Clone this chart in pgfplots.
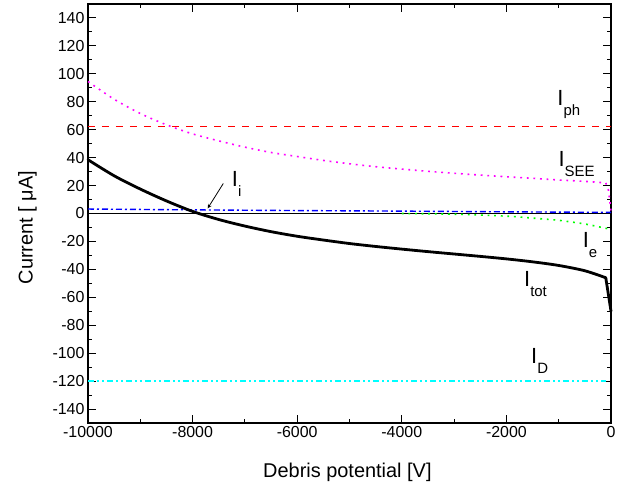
\documentclass[border=0pt]{standalone}
\usepackage{pgfplots}
\pgfplotsset{compat=1.18}
\usepackage{fontspec}
\setmainfont{Liberation Sans}
\definecolor{cRed}{RGB}{255,0,0}
\definecolor{cMag}{RGB}{255,0,255}
\definecolor{cBlue}{RGB}{0,0,255}
\definecolor{cGreen}{RGB}{0,255,0}
\definecolor{cCyan}{RGB}{0,255,255}
\newcommand{\lbl}[1]{{\fontsize{22}{22}\selectfont I}\raisebox{-10bp}{\fontsize{15}{15}\selectfont #1}}
\begin{document}
\begin{tikzpicture}
\begin{axis}[
    scale only axis,
    width=523bp, height=419bp,
    xmin=-10000, xmax=0,
    ymin=-150, ymax=150,
    xtick={-10000,-8000,-6000,-4000,-2000,0},
    minor x tick num=1,
    ytick={-140,-120,-100,-80,-60,-40,-20,0,20,40,60,80,100,120,140},
    minor y tick num=1,
    scaled x ticks=false,
    tick align=inside,
    major tick length=8bp, minor tick length=4bp,
    every tick/.style={black, line width=1bp},
    axis line style={line width=1.2bp},
    /pgf/number format/assume math mode=true,
    /pgf/number format/1000 sep={},
    tick label style={font=\fontsize{16}{19}\selectfont},
    label style={font=\fontsize{20}{24}\selectfont},
    xlabel={Debris potential [V]},
    ylabel={Current [ μA]},
    xlabel style={at={(axis description cs:0.496,-0.13)}, anchor=base},
    ylabel style={at={(axis description cs:-0.1057,0.4666)}, anchor=base},
    clip=false,
]
\coordinate (sw) at (rel axis cs:0,0);
\coordinate (ne) at (rel axis cs:1,1);

% zero line
\addplot[black, line width=1.2bp] coordinates {(-10000,0) (0,0)};

% I_ph
\addplot[cRed, line width=1.3bp, dash pattern=on 7bp off 7bp] coordinates {(-10000,62.3) (0,62.3)};

% I_SEE
\addplot[cMag, line width=1.6bp, dash pattern=on 1.8bp off 4.8bp, smooth] coordinates {
    (-10000,94.5) (-9500,81.8) (-9000,71.6) (-8500,63.5) (-8000,57.0)
    (-7500,52.0) (-7000,47.5) (-6500,43.7) (-6000,40.8) (-5500,38.0)
    (-5000,35.6) (-4500,33.5) (-4000,31.8) (-3500,30.2) (-3000,28.8)
    (-2500,27.5) (-2000,26.3) (-1500,25.2) (-1000,24.0) (-500,23.0)
    (-100,21.9)
};
\addplot[cMag, line width=1.6bp, dash pattern=on 1.8bp off 4.8bp] coordinates {
    (-100,21.9) (-50,17) (0,2)
};

% I_i
\addplot[cBlue, line width=1.4bp, dash pattern=on 6bp off 3bp on 2bp off 3bp] coordinates {
    (-10000,3.2) (-8000,2.6) (-6000,2.1) (-4000,1.7) (-2000,1.2) (0,0.8)
};

% I_e
\addplot[cGreen, line width=1.6bp, dash pattern=on 1.8bp off 4.8bp, smooth] coordinates {
    (-4000,0) (-3000,-0.5) (-2000,-1.9) (-1500,-3.3) (-1000,-4.9)
    (-500,-7.5) (-200,-9.8) (-50,-11) (0,-12)
};

% I_D
\addplot[cCyan, line width=1.4bp, dash pattern=on 6bp off 3bp on 2bp off 3bp on 2bp off 3bp] coordinates {
    (-10000,-120) (-100,-120)
};

% I_tot
\addplot[black, line width=2.8bp, smooth, line cap=round] coordinates {
    (-10000,38.5) (-9500,27.0) (-9000,17.5) (-8500,9.0) (-8000,1.5)
    (-7500,-4.3) (-7000,-9.0) (-6500,-13.0) (-6000,-16.3) (-5500,-19.0)
    (-5000,-21.5) (-4500,-23.6) (-4000,-25.5) (-3500,-27.3) (-3000,-29.0)
    (-2500,-30.7) (-2000,-32.5) (-1500,-34.6) (-1000,-37.2) (-500,-41.0)
    (-100,-46.0)
};
\addplot[black, line width=2.8bp, line cap=round] coordinates {
    (-100,-46.0) (0,-70)
};

\node[anchor=base west, inner sep=0] at (axis cs:-1027,77.1) {\lbl{ph}};
\node[anchor=base west, inner sep=0] at (axis cs:-1007,33.3) {\lbl{SEE}};
\node[anchor=base west, inner sep=0] at (axis cs:-7252,19.0) {\lbl{i}};
\node[anchor=base west, inner sep=0] at (axis cs:-542,-24.0) {\lbl{e}};
\node[anchor=base west, inner sep=0] at (axis cs:-1664,-52.5) {\lbl{tot}};
\node[anchor=base west, inner sep=0] at (axis cs:-1530,-107.3) {\lbl{D}};
\draw[-stealth, line width=0.8bp] (axis cs:-7413,21.5) -- (axis cs:-7711,3.7);
\end{axis}
\pgfresetboundingbox
\path ([shift={(-88bp,-65bp)}]sw) rectangle ([shift={(22bp,4bp)}]ne);
\end{tikzpicture}
\end{document}
